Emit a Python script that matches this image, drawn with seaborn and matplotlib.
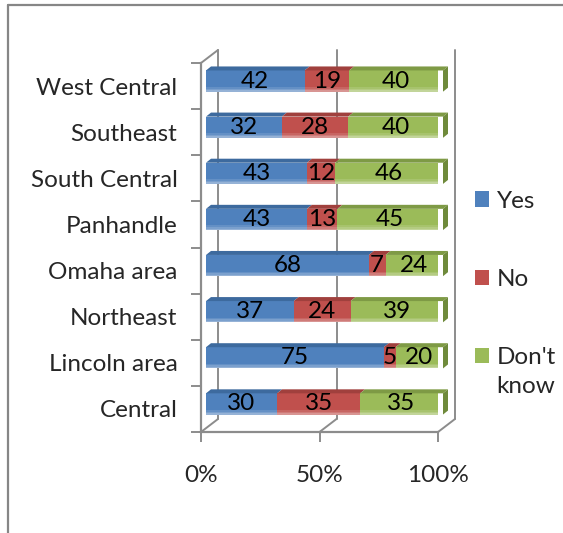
import numpy as np
import pandas as pd
import matplotlib
matplotlib.use("Agg")
import matplotlib.pyplot as plt
import seaborn as sns
from matplotlib.patches import Polygon, Patch
from matplotlib.lines import Line2D
from matplotlib.transforms import ScaledTranslation, IdentityTransform

# ---- data (top to bottom as shown) ----
regions = ["West Central", "Southeast", "South Central", "Panhandle",
           "Omaha area", "Northeast", "Lincoln area", "Central"]
yes = [42, 32, 43, 43, 68, 37, 75, 30]
no = [19, 28, 12, 13, 7, 24, 5, 35]
dont_know = [40, 40, 46, 45, 24, 39, 20, 35]
series_names = ["Yes", "No", "Don't\nknow"]
tick_values = [0, 0.5, 1.0]
tick_labels = ["0%", "50%", "100%"]

front_colors = ["#4F81BD", "#C0504D", "#9BBB59"]
top_colors = ["#3D6A9E", "#A0403D", "#7E9A45"]
cap_color = "#6F8A3B"
grid_color = "#8C8C8C"

sns.set_theme(style="white")
plt.rcParams["font.family"] = ["Lato", "DejaVu Sans"]
FS = 17.5

df = pd.DataFrame({"region": regions, "yes": yes, "no": no, "dk": dont_know})
total = df["yes"] + df["no"] + df["dk"]
df["c1"] = df["yes"] / total
df["c2"] = (df["yes"] + df["no"]) / total
df["c3"] = (df["yes"] + df["no"] + df["dk"]) / total

fig = plt.figure(figsize=(5.63, 5.33), dpi=100)
ax = fig.add_axes([201 / 563, 101 / 533, 237 / 563, 369 / 533])
ax.set_facecolor("none")

BW = 0.46
layers = []
for col, c in zip(["c3", "c2", "c1"], front_colors[::-1]):
    n0 = len(ax.patches)
    sns.barplot(data=df, y="region", x=col, order=regions, color=c,
                saturation=1, width=BW, orient="h", linewidth=0, ax=ax,
                zorder=3)
    layers.append(ax.patches[n0:])

ax.set_xlim(0, 1)
ax.set_ylim(len(regions) - 0.5, -0.5)

# shift bars into the depth of the 3D box
FX, FY = 5, 5      # front face offset (px)
DX, DY = 5, 4      # bar depth (px)
BX, BY = 17, 13    # back wall offset (px)
off = ScaledTranslation(FX / 100, FY / 100, fig.dpi_scale_trans)
for lay in layers:
    for p in lay:
        p.set_transform(ax.transData + off)

T = ax.transData


def disp(x, y, dx=0, dy=0):
    px, py = T.transform((x, y))
    return (px + dx, py + dy)


def add(artist):
    ax.add_artist(artist)
    artist.set_clip_on(False)


# 3D frame: back gridlines and diagonals
ytop, ybot = -0.5, len(regions) - 0.5
for xv in tick_values:
    fb = disp(xv, ybot)
    bb = disp(xv, ybot, BX, BY)
    bt = disp(xv, ytop, BX, BY)
    add(Line2D([bb[0], bt[0]], [bb[1], bt[1]], transform=IdentityTransform(),
               color=grid_color, lw=1.4, zorder=1))
    add(Line2D([fb[0], bb[0]], [fb[1], bb[1]], transform=IdentityTransform(),
               color=grid_color, lw=1.4, zorder=1))
ft = disp(0, ytop)
bt = disp(0, ytop, BX, BY)
add(Line2D([ft[0], bt[0]], [ft[1], bt[1]], transform=IdentityTransform(),
           color=grid_color, lw=1.4, zorder=1))

# top faces, end caps and a soft lower highlight on the bars
starts = [np.zeros(len(regions)), df["c1"].values, df["c2"].values]
ends = [df["c1"].values, df["c2"].values, df["c3"].values]
for i in range(len(regions)):
    yt = i - BW / 2
    yb = i + BW / 2
    for k in range(3):
        a, b = starts[k][i], ends[k][i]
        p1 = disp(a, yt, FX, FY)
        p2 = disp(b, yt, FX, FY)
        p3 = (p2[0] + DX, p2[1] + DY)
        p4 = (p1[0] + DX, p1[1] + DY)
        add(Polygon([p1, p2, p3, p4], closed=True, transform=IdentityTransform(),
                    facecolor=top_colors[k], lw=0, zorder=3))
    # lower highlight (gradient-like)
    for frac, alpha in [(0.22, 0.12), (0.14, 0.15), (0.07, 0.2)]:
        h1 = disp(0, yb - BW * frac, FX, FY)
        h2 = disp(ends[2][i], yb, FX, FY)
        add(Polygon([h1, (h2[0], h1[1]), h2, (h1[0], h2[1])], closed=True,
                    transform=IdentityTransform(), facecolor="white",
                    alpha=alpha, lw=0, zorder=3.5))
    q1 = disp(ends[2][i], yt, FX, FY)
    q2 = disp(ends[2][i], yb, FX, FY)
    add(Polygon([q1, (q1[0] + DX, q1[1] + DY), (q2[0] + DX, q2[1] + DY), q2],
                closed=True, transform=IdentityTransform(),
                facecolor=cap_color, lw=0, zorder=3))
    # value labels
    vals = [yes[i], no[i], dont_know[i]]
    for k in range(3):
        a, b = starts[k][i], ends[k][i]
        ax.text((a + b) / 2, i, str(vals[k]), ha="center", va="center",
                fontsize=FS, color="black", zorder=5,
                transform=ax.transData + off)

# axes styling
for s in ["top", "right"]:
    ax.spines[s].set_visible(False)
for s in ["left", "bottom"]:
    ax.spines[s].set_color(grid_color)
    ax.spines[s].set_linewidth(1.6)
    ax.spines[s].set_zorder(2)

ax.set_xticks(tick_values)
ax.set_xticklabels(tick_labels)
ax.set_yticks(np.arange(-0.5, len(regions), 1), minor=True)
ax.tick_params(axis="x", which="major", length=7, width=1.4, color=grid_color,
               direction="out", pad=17, labelsize=FS, bottom=True)
ax.tick_params(axis="y", which="major", length=0, pad=17, labelsize=FS)
ax.tick_params(axis="y", which="minor", length=7, width=1.4, color=grid_color,
               direction="out", left=True)
ax.set_xlabel("")
ax.set_ylabel("")

# legend
handles = [Patch(facecolor=c, edgecolor="none") for c in front_colors]
leg = fig.legend(handles, series_names, loc="upper left",
                 bbox_to_anchor=(465 / 563, 1 - 181 / 533), frameon=False,
                 fontsize=FS, handlelength=0.6, handleheight=0.6,
                 handletextpad=0.3, labelspacing=2.35, borderaxespad=0)
for t in leg.get_texts():
    t.set_linespacing(1.45)

# align the square of the two-line entry with its first line
fig.canvas.draw()
r = fig.canvas.get_renderer()
hs = leg.legend_handles
ts = leg.get_texts()
ref_gap = ts[0].get_window_extent(r).y1 - hs[0].get_window_extent(r).y1
need = ts[2].get_window_extent(r).y1 - ref_gap - hs[2].get_window_extent(r).y1
hs[2].set_y(hs[2].get_y() + need * 72 / fig.dpi)

# chart border (top and left)
fig.add_artist(Line2D([8 / 563, 1], [1 - 4.5 / 533, 1 - 4.5 / 533],
                      transform=fig.transFigure, color="#868686", lw=1.6))
fig.add_artist(Line2D([8 / 563, 8 / 563], [0, 1 - 4.5 / 533],
                      transform=fig.transFigure, color="#868686", lw=1.6))

fig.savefig("out.png", dpi=100)
